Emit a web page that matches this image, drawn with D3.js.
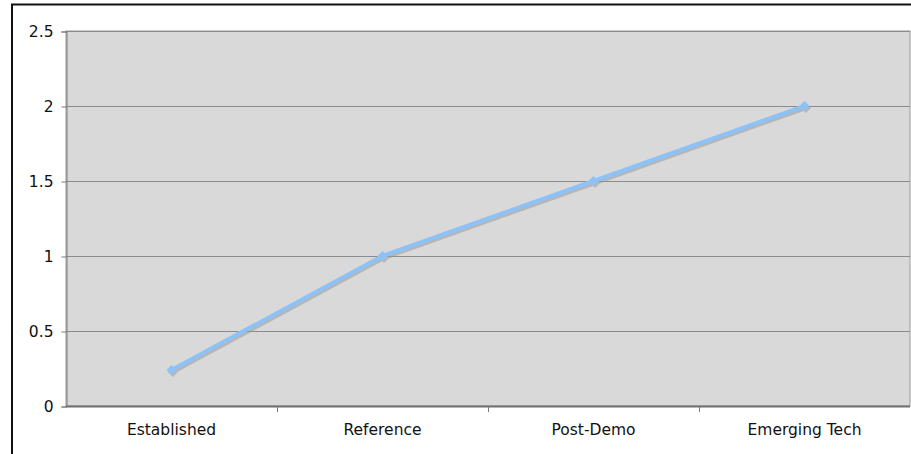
<!DOCTYPE html>
<html>
<head>
<meta charset="utf-8">
<script src="https://cdn.jsdelivr.net/npm/d3@7"></script>
<style>
  html, body { margin: 0; padding: 0; background: #fff; }
  svg { display: block; }
  text { font-family: "DejaVu Sans", Verdana, sans-serif; font-size: 15.5px; fill: #111; }
</style>
</head>
<body>
<svg id="chart" width="911" height="454"></svg>
<script>
// Chart data
const categories = ["Established", "Reference", "Post-Demo", "Emerging Tech"];
const values = [0.24, 1.0, 1.5, 2.0];
const yTicks = [0, 0.5, 1, 1.5, 2, 2.5];

const W = 911, H = 454;
const plot = { left: 66, top: 31, right: 910, bottom: 406 };

const svg = d3.select("#chart");

// outer frame (left and top edges visible)
svg.append("path")
  .attr("d", `M12,${H} L12,4.5 L${W},4.5`)
  .attr("fill", "none")
  .attr("stroke", "#111")
  .attr("stroke-width", 2);

const x = d3.scaleBand().domain(categories).range([plot.left, plot.right]).padding(0);
const y = d3.scaleLinear().domain([0, 2.5]).range([plot.bottom, plot.top]);

// plot background
svg.append("rect")
  .attr("x", plot.left).attr("y", plot.top)
  .attr("width", plot.right - plot.left).attr("height", plot.bottom - plot.top)
  .attr("fill", "#d9d9d9")
  .attr("stroke", "#9a9a9a").attr("stroke-width", 1);

// horizontal gridlines
svg.append("g")
  .selectAll("line")
  .data(yTicks.filter(d => d > 0))
  .join("line")
  .attr("x1", plot.left).attr("x2", plot.right)
  .attr("y1", d => Math.round(y(d)) + 0.5).attr("y2", d => Math.round(y(d)) + 0.5)
  .attr("stroke", "#8c8c8c").attr("stroke-width", 1);

// y axis
const yAxis = svg.append("g")
  .attr("transform", `translate(${plot.left + 0.5},0.5)`)
  .call(d3.axisLeft(y).tickValues(yTicks).tickSize(5).tickPadding(8).tickFormat(d3.format("")));
yAxis.attr("font-size", null).attr("font-family", null);
yAxis.select(".domain").attr("stroke", "#7a7a7a");
yAxis.selectAll(".tick line").attr("stroke", "#7a7a7a");
yAxis.selectAll("text").attr("fill", "#111");

// x axis with ticks at category boundaries
const xAxisG = svg.append("g").attr("transform", `translate(0,${plot.bottom})`);
xAxisG.append("line")
  .attr("x1", plot.left).attr("x2", plot.right)
  .attr("y1", 0.5).attr("y2", 0.5)
  .attr("stroke", "#707070").attr("stroke-width", 2);
const bounds = categories.map(c => x(c)).concat([plot.right]);
xAxisG.selectAll("line.bt")
  .data(bounds.slice(1, -1))
  .join("line").attr("class", "bt")
  .attr("x1", d => Math.round(d) + 0.5).attr("x2", d => Math.round(d) + 0.5)
  .attr("y1", 0).attr("y2", 6)
  .attr("stroke", "#7a7a7a");
xAxisG.selectAll("text")
  .data(categories)
  .join("text")
  .attr("x", d => x(d) + x.bandwidth() / 2)
  .attr("y", 29)
  .attr("text-anchor", "middle")
  .text(d => d);

const pts = categories.map((c, i) => [x(c) + x.bandwidth() / 2, y(values[i])]);
const line = d3.line();
// diamond marker: a square turned 45 degrees
const marker = d3.symbol().type(d3.symbolSquare).size(50);

// drop shadow
const shadow = svg.append("g").attr("transform", "translate(1.5,2)").attr("opacity", 0.55);
shadow.append("path").attr("d", line(pts))
  .attr("fill", "none").attr("stroke", "#9b9b9b").attr("stroke-width", 4)
  .attr("stroke-linejoin", "round");
shadow.selectAll("path.m").data(pts).join("path").attr("class", "m")
  .attr("transform", d => `translate(${d[0]},${d[1]}) rotate(45)`)
  .attr("d", marker).attr("fill", "#9b9b9b");

// series line
svg.append("path").attr("d", line(pts))
  .attr("fill", "none").attr("stroke", "#8cc2f8").attr("stroke-width", 4)
  .attr("stroke-linejoin", "round");
svg.selectAll("path.marker").data(pts).join("path").attr("class", "marker")
  .attr("transform", d => `translate(${d[0]},${d[1]}) rotate(45)`)
  .attr("d", marker).attr("fill", "#8cc2f8");
</script>
</body>
</html>
